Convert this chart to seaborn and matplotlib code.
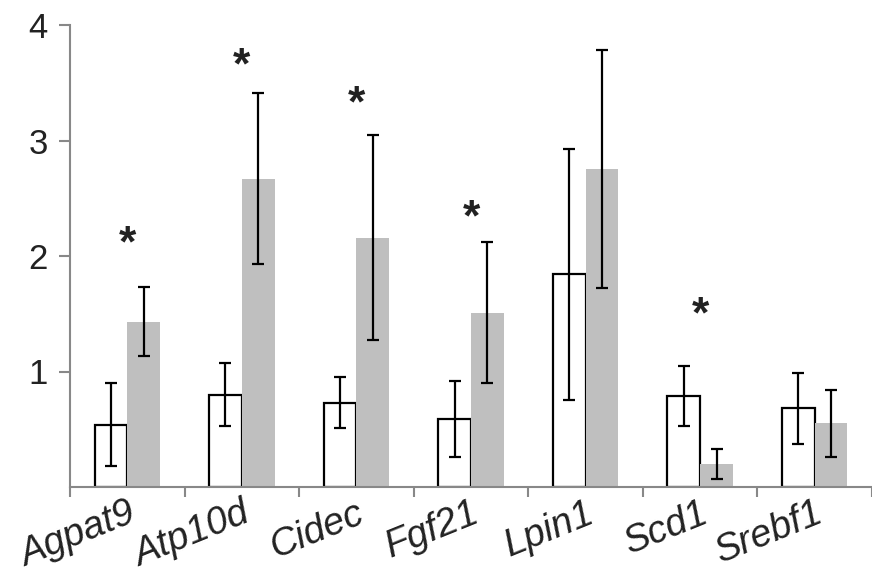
import matplotlib
matplotlib.use("Agg")
import matplotlib.pyplot as plt
import matplotlib.transforms as mtransforms
import numpy as np
import pandas as pd
import seaborn as sns

genes = ["Agpat9", "Atp10d", "Cidec", "Fgf21", "Lpin1", "Scd1", "Srebf1"]
groups = ["control", "treated"]
control_mean = [0.54, 0.80, 0.73, 0.59, 1.84, 0.79, 0.68]
control_err = [0.36, 0.27, 0.22, 0.33, 1.09, 0.26, 0.31]
treated_mean = [1.43, 2.67, 2.16, 1.51, 2.75, 0.20, 0.55]
treated_err = [0.30, 0.74, 0.89, 0.61, 1.03, 0.13, 0.29]
signif = [True, True, True, True, False, True, False]
star_y = [2.10, 3.64, 3.31, 2.32, 0, 1.48, 0]

df = pd.DataFrame({
    "gene": genes * 2,
    "group": [groups[0]] * len(genes) + [groups[1]] * len(genes),
    "value": control_mean + treated_mean,
    "err": control_err + treated_err,
})

sns.set_style("white")
plt.rcParams["font.family"] = ["Liberation Sans", "DejaVu Sans"]

fig = plt.figure(figsize=(8.72, 5.73), dpi=100)
ax = fig.add_axes([70 / 872, 86 / 573, 1 - 70 / 872, (487 - 25) / 573])

sns.barplot(data=df, x="gene", y="value", hue="group", order=genes,
            hue_order=groups, palette=["white", "#bfbfbf"], width=0.572,
            errorbar=None, legend=False, ax=ax, saturation=1)

n = len(genes)
for i, p in enumerate(ax.patches[:2 * n]):
    if i < n:
        p.set_edgecolor("black")
        p.set_linewidth(1.6)
    else:
        p.set_edgecolor("none")
        p.set_linewidth(0)
    # error bars
    xc = p.get_x() + p.get_width() / 2
    h = p.get_height()
    e = df["err"].iloc[i]
    ax.errorbar(xc, h, yerr=e, fmt="none", ecolor="black", elinewidth=1.6,
                capsize=4, capthick=1.6, zorder=5)

for i, g in enumerate(genes):
    if signif[i]:
        ax.text(i, star_y[i], "*", ha="center", va="center", fontsize=32,
                fontweight="bold", color="#222222")

ax.set_xlim(-0.5, 6.456)
ax.set_ylim(0, 4)
ax.set_xlabel("")
ax.set_ylabel("")

ax.set_xticks(np.arange(-0.5, n, 1.0))
ax.set_xticklabels([])
ax.set_xticks(np.arange(n), minor=True)
ax.set_xticklabels(genes, minor=True, rotation=22, ha="right",
                   rotation_mode="anchor", style="italic", fontsize=27.5,
                   color="#222222")
shift = mtransforms.ScaledTranslation(-5 / 100, 0, fig.dpi_scale_trans)
for lab in ax.get_xticklabels(minor=True):
    lab.set_transform(lab.get_transform() + shift)
ax.tick_params(axis="x", which="minor", length=0, pad=6)
ax.tick_params(axis="x", which="major", length=7, width=1.5, color="#888888",
               direction="out", bottom=True)

ax.set_yticks([1, 2, 3, 4])
ax.set_yticklabels(["1", "2", "3", "4"], fontsize=25, color="#222222")
ax.tick_params(axis="y", length=8, width=1.5, color="#888888", direction="out",
               left=True, pad=8)

for s in ["top", "right"]:
    ax.spines[s].set_visible(False)
for s in ["left", "bottom"]:
    ax.spines[s].set_color("#888888")
    ax.spines[s].set_linewidth(1.5)

fig.savefig("out.png", dpi=100)
